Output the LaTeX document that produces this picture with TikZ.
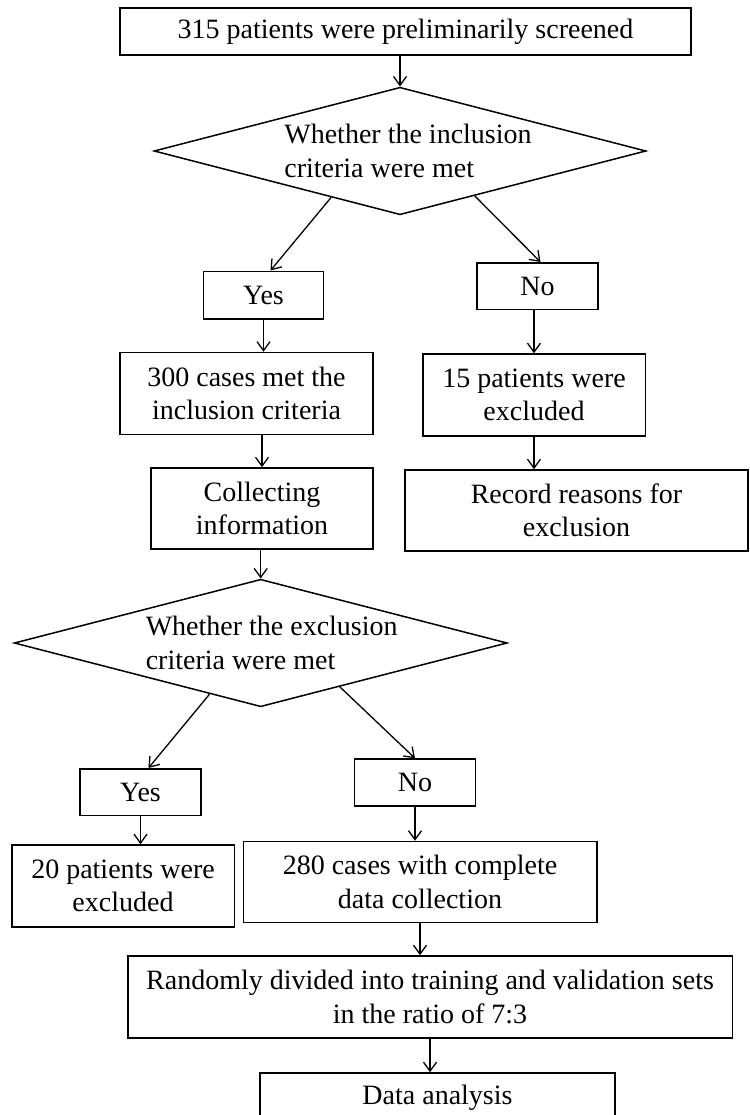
\documentclass[tikz,border=0pt]{standalone}
\usepackage{fontspec}
\setmainfont{Liberation Serif}
\usetikzlibrary{shapes,arrows.meta,positioning,calc}

\begin{document}
\begin{tikzpicture}[x=1pt,y=-1pt,
    box/.style={draw,line width=1.5pt,align=center,inner sep=0pt,font=\fontsize{28}{33.5}\selectfont},
    decision/.style={draw,diamond,aspect=3.86,line width=1.5pt,align=left,inner sep=0pt,
        font=\fontsize{28}{33.5}\selectfont,minimum width=492pt,minimum height=127.5pt},
    arr/.style={line width=1.3pt,-{Straight Barb[length=9pt,width=13pt]}}]
    \clip (0,0) rectangle (749,1115);

    % Screening and inclusion check
    \node[box,minimum width=571pt,minimum height=47pt] (screen) at (405.5,31.5) {315 patients were preliminarily screened};
    \node[decision] (incl) at (400,151) {\hspace*{16pt}Whether the inclusion\\\hspace*{16pt}criteria were met};
    \node[box,minimum width=120pt,minimum height=47.5pt] (yesA) at (263.5,295) {Yes};
    \node[box,minimum width=121pt,minimum height=46.5pt] (noA) at (537.5,286) {No};
    \node[box,minimum width=253pt,minimum height=82pt] (met) at (246.5,393.5) {300 cases met the\\inclusion criteria};
    \node[box,minimum width=222.5pt,minimum height=82pt] (outA) at (534,395) {15 patients were\\excluded};
    \node[box,minimum width=222pt,minimum height=81pt] (collect) at (262,508.5) {Collecting\\information};
    \node[box,minimum width=343pt,minimum height=81pt] (reason) at (576.5,510.5) {Record reasons for\\exclusion};

    % Exclusion check
    \node[decision,minimum width=493pt] (excl) at (260.7,643) {\hspace*{22pt}Whether the exclusion\\\hspace*{22pt}criteria were met};
    \node[box,minimum width=121pt,minimum height=46.5pt] (yesB) at (140.5,792) {Yes};
    \node[box,minimum width=121pt,minimum height=47pt] (noB) at (415,782.5) {No};
    \node[box,minimum width=222.5pt,minimum height=82pt] (outB) at (123,886) {20 patients were\\excluded};
    \node[box,minimum width=353.5pt,minimum height=81pt] (full) at (420,882) {280 cases with complete\\data collection};

    % Splitting and analysis
    \node[box,minimum width=604.5pt,minimum height=82pt] (split) at (430,997) {Randomly divided into training and validation sets\\in the ratio of 7:3};
    \node[box,minimum width=355pt,minimum height=50pt] (analysis) at (437.5,1098) {Data analysis};

    % Arrows
    \draw[arr] (incl.north |- screen.south) -- (incl.north);
    \draw[arr] (incl.214) -- ([xshift=7pt]yesA.north);
    \draw[arr] (incl.-31) -- ([xshift=3pt]noA.north);
    \draw[arr] (yesA.south) -- (yesA.south |- met.north);
    \draw[arr] (outA.north |- noA.south) -- (outA.north);
    \draw[arr] (collect.north |- met.south) -- (collect.north);
    \draw[arr] (outA.south) -- (outA.south |- reason.north);
    \draw[arr] (excl.north |- collect.south) -- (excl.north);
    \draw[arr] (excl.225) -- ([xshift=8pt]yesB.north);
    \draw[arr] (excl.-29) -- (noB.north);
    \draw[arr] (yesB.south) -- (yesB.south |- outB.north);
    \draw[arr] (noB.south) -- (noB.south |- full.north);
    \draw[arr] (full.south) -- (full.south |- split.north);
    \draw[arr] (split.south) -- (split.south |- analysis.north);
\end{tikzpicture}
\end{document}
